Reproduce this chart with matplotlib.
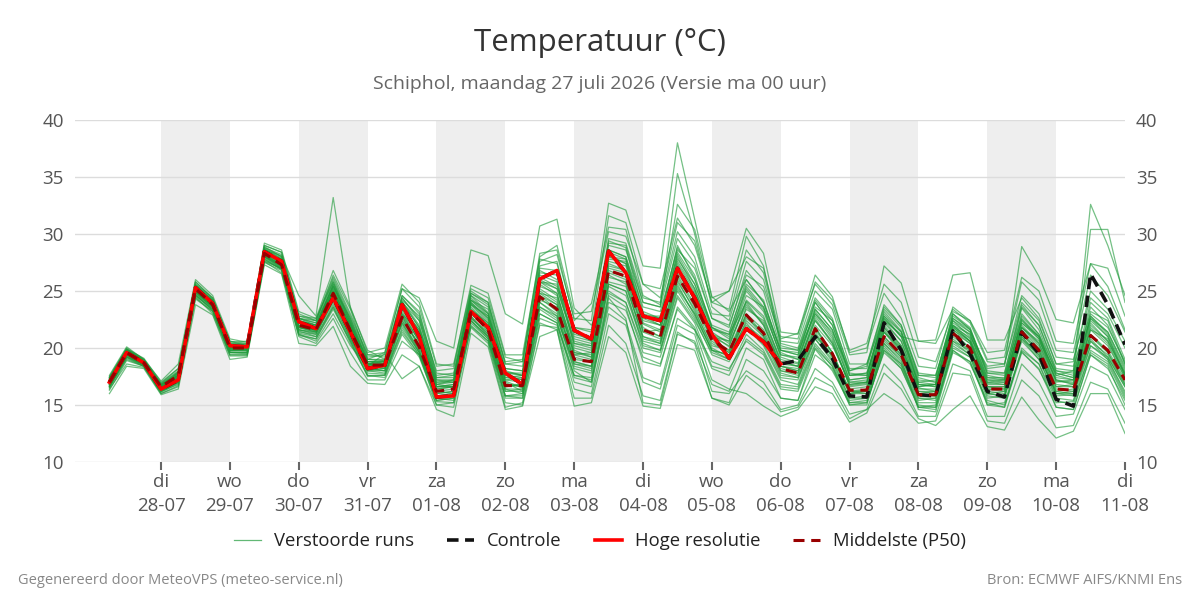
import matplotlib
matplotlib.use("Agg")
import matplotlib.pyplot as plt
from matplotlib.lines import Line2D

plt.rcParams['font.family'] = ['Open Sans', 'DejaVu Sans']

# ---------------- data ----------------
day_names = ["di", "wo", "do", "vr", "za", "zo", "ma", "di", "wo", "do", "vr", "za", "zo", "ma", "di"]
day_dates = ["28-07", "29-07", "30-07", "31-07", "01-08", "02-08", "03-08", "04-08",
             "05-08", "06-08", "07-08", "08-08", "09-08", "10-08", "11-08"]

# first point 27-07 06 UTC, 6-hourly steps (in days relative to 28-07 00 UTC)
first_step = -0.75
step_days = 0.25

median = [17.0, 19.6, 18.7, 16.6, 17.6, 25.2, 23.8, 20.0, 20.0, 28.3,
          27.3, 22.0, 21.6, 24.8, 21.5, 18.5, 18.5, 22.7, 20.1, 16.2,
          16.4, 23.1, 21.6, 16.7, 16.7, 24.5, 23.4, 19.0, 18.8, 26.8,
          26.3, 21.6, 21.0, 26.3, 23.9, 20.7, 19.7, 22.9, 21.3, 18.2,
          17.8, 21.7, 19.5, 16.3, 16.3, 21.0, 19.4, 15.9, 15.9, 21.3,
          20.0, 16.4, 16.4, 21.4, 19.8, 16.4, 16.3, 21.1, 19.8, 17.2]

hres = [17.0, 19.6, 18.7, 16.4, 17.2, 25.3, 23.9, 20.2, 20.1, 28.45,
        27.6, 22.3, 21.7, 24.4, 21.4, 18.2, 18.5, 23.8, 21.0, 15.7,
        15.8, 23.2, 21.8, 17.8, 16.8, 26.05, 26.8, 21.55, 20.8, 28.5,
        26.6, 22.8, 22.4, 27.0, 24.4, 21.2, 19.1, 21.7, 20.55, 18.6]

control = [17.0, 19.6, 18.7, 16.4, 17.2, 25.3, 23.9, 20.2, 20.1, 28.45,
           27.6, 22.3, 21.7, 24.4, 21.4, 18.2, 18.5, 23.8, 21.0, 15.7,
           15.8, 23.2, 21.8, 17.8, 16.8, 26.05, 26.8, 21.55, 20.8, 28.5,
           26.6, 22.8, 22.4, 27.0, 24.4, 21.2, 19.1, 21.7, 20.55, 18.6,
           18.9, 21.0, 19.1, 15.8, 15.7, 22.2, 19.8, 15.9, 15.8, 21.5,
           19.5, 16.2, 15.7, 21.4, 19.5, 15.5, 14.9, 26.5, 23.8, 20.3]

member_01 = [17.2, 19.8, 18.9, 16.8, 17.9, 25.6, 24.2, 20.3, 20.2, 28.9,
             28.0, 22.6, 22.0, 25.6, 22.4, 19.0, 18.9, 24.1, 22.0, 17.0,
             17.2, 24.6, 23.1, 17.9, 17.6, 26.8, 26.0, 20.6, 20.2, 29.4,
             28.8, 23.2, 22.6, 29.0, 26.1, 21.8, 20.8, 25.4, 23.6, 19.2,
             18.7, 23.4, 21.6, 17.2, 17.4, 23.2, 21.5, 16.8, 16.6, 22.8,
             21.7, 17.6, 17.3, 23.5, 21.6, 17.8, 17.4, 23.2, 22.4, 18.6]
member_02 = [16.4, 18.6, 18.3, 16.0, 16.6, 24.3, 23.2, 19.4, 19.4, 27.6,
             27.0, 21.1, 20.8, 23.4, 20.6, 17.6, 17.4, 21.2, 19.2, 15.3,
             15.2, 21.9, 20.6, 15.6, 15.6, 22.6, 22.0, 17.6, 17.2, 24.0,
             23.3, 19.2, 18.6, 23.4, 21.6, 18.8, 18.2, 20.6, 19.4, 16.4,
             16.2, 19.9, 18.0, 15.2, 15.4, 19.6, 18.2, 14.8, 14.6, 19.8,
             18.6, 15.4, 15.0, 19.7, 18.1, 15.2, 15.3, 19.6, 18.6, 15.6]
member_03 = [17.4, 19.9, 18.8, 16.5, 17.4, 25.0, 23.6, 19.9, 19.8, 28.2,
             27.3, 22.2, 21.9, 25.2, 21.9, 18.3, 18.2, 23.4, 20.8, 16.6,
             16.8, 23.9, 22.4, 17.1, 16.5, 25.4, 24.8, 19.8, 19.2, 27.6,
             27.2, 22.1, 21.4, 27.2, 24.8, 21.2, 20.1, 24.1, 22.6, 19.0,
             18.6, 22.6, 20.4, 16.7, 16.9, 22.4, 20.6, 16.5, 16.2, 21.9,
             20.9, 17.0, 16.8, 22.5, 20.8, 17.1, 16.9, 22.8, 21.4, 18.2]
member_04 = [16.8, 19.4, 18.6, 16.9, 18.2, 25.4, 24.0, 20.5, 20.6, 28.6,
             28.1, 24.6, 22.8, 33.2, 23.5, 19.8, 19.0, 22.0, 19.6, 15.8,
             16.0, 22.4, 21.0, 16.2, 16.4, 23.6, 22.6, 18.6, 18.4, 25.6,
             25.0, 20.6, 20.2, 25.4, 23.0, 19.8, 19.4, 22.0, 20.8, 17.6,
             17.4, 20.8, 19.0, 15.6, 15.8, 20.4, 18.8, 15.4, 15.6, 20.6,
             19.4, 16.0, 15.8, 20.8, 19.0, 15.8, 15.9, 20.2, 19.2, 16.6]
member_05 = [17.1, 19.5, 18.5, 16.3, 17.0, 24.8, 23.5, 20.1, 20.2, 28.0,
             27.4, 22.4, 22.0, 25.0, 22.0, 19.0, 19.6, 25.2, 24.4, 20.6,
             20.0, 28.6, 28.1, 23.0, 22.1, 30.7, 31.3, 23.5, 22.0, 25.0,
             24.0, 20.0, 19.6, 24.6, 22.4, 19.6, 19.0, 23.0, 21.6, 18.4,
             18.2, 22.0, 20.2, 17.0, 17.0, 21.8, 20.0, 16.6, 16.8, 22.0,
             20.6, 16.9, 17.0, 21.8, 20.4, 17.2, 16.8, 22.0, 20.6, 17.8]
member_06 = [17.3, 19.7, 18.9, 16.7, 17.8, 25.5, 24.1, 20.4, 20.3, 28.7,
             27.8, 22.3, 21.8, 24.9, 21.6, 18.6, 18.8, 24.6, 23.2, 17.6,
             17.8, 24.8, 23.8, 18.6, 18.4, 27.6, 28.2, 22.6, 22.4, 32.7,
             32.1, 27.2, 27.0, 38.0, 31.3, 24.5, 23.2, 26.0, 24.0, 19.8,
             19.4, 24.0, 22.0, 17.8, 17.6, 22.6, 21.0, 17.0, 17.2, 23.0,
             21.6, 18.0, 17.8, 23.8, 22.0, 18.2, 18.0, 24.0, 22.6, 19.0]
member_07 = [16.6, 19.2, 18.6, 16.2, 17.0, 25.0, 23.9, 20.0, 19.9, 28.2,
             27.6, 22.8, 22.4, 26.2, 23.0, 19.4, 19.2, 24.0, 22.4, 17.2,
             17.0, 24.2, 23.4, 18.0, 17.6, 27.2, 27.6, 21.4, 20.6, 29.2,
             29.0, 24.0, 23.6, 35.3, 30.0, 23.6, 22.4, 27.6, 26.0, 20.4,
             20.0, 24.4, 22.6, 18.0, 18.4, 23.8, 22.0, 17.6, 17.6, 22.4,
             21.0, 18.4, 18.6, 24.0, 22.4, 18.6, 18.8, 25.0, 23.4, 20.6]
member_08 = [17.5, 20.0, 19.0, 17.1, 18.6, 26.0, 24.6, 20.8, 20.5, 29.2,
             28.6, 23.2, 22.6, 26.8, 23.6, 19.6, 20.0, 25.6, 24.0, 18.6,
             18.4, 25.5, 24.8, 19.4, 19.4, 28.0, 29.0, 23.0, 23.2, 30.2,
             29.8, 25.6, 25.2, 31.4, 29.0, 24.0, 25.0, 30.5, 28.3, 21.4,
             21.2, 26.4, 24.5, 19.6, 20.0, 24.8, 22.6, 18.4, 18.2, 23.6,
             22.4, 19.0, 19.2, 25.8, 24.2, 19.8, 19.6, 26.4, 24.6, 21.4]
member_09 = [16.0, 18.4, 18.2, 15.9, 16.4, 23.8, 22.9, 19.0, 19.2, 27.3,
             26.5, 20.4, 20.2, 21.9, 18.4, 16.9, 16.8, 19.4, 18.4, 14.6,
             14.0, 21.3, 20.1, 14.6, 14.9, 21.0, 21.6, 14.9, 15.2, 21.0,
             19.6, 14.9, 14.7, 20.3, 19.8, 15.6, 15.2, 19.0, 18.0, 15.6,
             15.4, 19.4, 18.2, 15.0, 15.2, 19.8, 18.6, 14.8, 15.0, 20.0,
             19.2, 15.6, 15.8, 20.8, 19.4, 16.0, 16.2, 20.6, 19.0, 16.0]
member_10 = [16.8, 19.3, 18.5, 16.4, 17.3, 25.0, 23.7, 19.8, 19.7, 28.0,
             27.2, 21.6, 21.3, 24.0, 20.8, 17.8, 17.7, 22.2, 19.8, 15.6,
             15.8, 22.6, 21.2, 16.4, 16.0, 24.0, 22.8, 18.0, 17.0, 23.6,
             22.4, 17.4, 16.8, 22.6, 21.6, 17.2, 16.4, 16.0, 14.9, 14.0,
             14.6, 16.6, 16.0, 13.5, 14.3, 17.8, 16.4, 13.8, 13.2, 14.6,
             15.8, 13.1, 12.8, 15.7, 13.7, 12.1, 12.7, 16.0, 16.0, 12.5]
member_11 = [17.2, 19.9, 19.1, 17.0, 18.2, 25.8, 24.4, 20.6, 20.4, 28.8,
             28.2, 22.8, 22.6, 25.8, 22.6, 19.2, 19.4, 24.4, 22.6, 18.0,
             18.2, 25.0, 24.0, 18.8, 19.0, 27.8, 27.4, 21.8, 21.6, 28.6,
             28.0, 23.6, 23.2, 28.6, 27.0, 22.6, 22.0, 26.4, 25.4, 20.8,
             21.3, 25.6, 23.8, 19.4, 19.6, 27.2, 25.7, 20.6, 20.4, 23.4,
             22.2, 18.8, 18.6, 24.6, 23.0, 19.2, 19.0, 24.4, 23.0, 20.0]
member_12 = [16.9, 19.5, 18.7, 16.6, 17.5, 25.1, 23.7, 20.1, 20.1, 28.4,
             27.5, 22.0, 21.5, 24.6, 21.6, 18.4, 18.6, 23.0, 21.4, 16.8,
             16.6, 23.4, 22.2, 17.2, 17.4, 25.0, 24.0, 19.6, 19.4, 27.8,
             27.6, 22.4, 22.0, 27.4, 25.0, 21.0, 20.6, 24.6, 23.6, 19.8,
             19.6, 23.0, 21.4, 18.0, 18.6, 22.8, 21.0, 20.6, 20.7, 26.4,
             26.6, 20.7, 20.7, 24.4, 22.6, 18.6, 18.4, 23.0, 21.8, 18.8]
member_13 = [17.0, 19.6, 18.6, 16.5, 17.4, 25.2, 23.9, 20.0, 20.0, 28.4,
             27.4, 21.8, 21.4, 24.6, 21.2, 18.2, 18.0, 22.4, 20.4, 16.0,
             16.2, 23.0, 21.6, 16.6, 16.8, 24.6, 23.8, 18.8, 18.4, 26.4,
             25.6, 21.0, 20.6, 26.0, 23.2, 20.2, 19.8, 23.4, 22.4, 18.8,
             18.4, 22.4, 20.6, 16.8, 17.0, 22.0, 20.2, 16.6, 16.8, 22.4,
             21.4, 18.2, 18.4, 28.9, 26.3, 22.5, 22.2, 27.4, 25.4, 21.6]
member_14 = [17.3, 19.8, 18.8, 16.8, 17.9, 25.3, 24.0, 20.2, 20.2, 28.5,
             27.6, 22.4, 21.8, 25.0, 22.0, 18.8, 18.6, 23.4, 21.6, 16.8,
             17.0, 23.8, 22.8, 17.8, 17.6, 25.8, 25.2, 20.4, 20.0, 28.2,
             27.4, 22.8, 22.4, 27.8, 25.6, 21.6, 21.2, 24.0, 22.0, 18.4,
             18.0, 21.6, 19.6, 16.0, 16.4, 21.4, 19.8, 16.0, 16.2, 21.8,
             20.6, 17.0, 17.2, 22.4, 21.0, 17.6, 18.0, 32.6, 29.0, 24.6]
member_15 = [16.7, 19.4, 18.6, 16.3, 17.2, 24.9, 23.6, 19.8, 19.9, 28.0,
             27.0, 21.6, 21.2, 24.2, 21.0, 18.0, 18.2, 22.8, 20.2, 16.4,
             16.6, 22.8, 21.2, 16.8, 16.6, 24.0, 23.0, 18.6, 18.2, 25.8,
             25.4, 21.0, 20.4, 25.6, 22.8, 19.8, 19.4, 22.2, 20.4, 17.4,
             17.2, 21.0, 19.4, 16.4, 16.6, 21.4, 20.0, 16.2, 16.0, 21.6,
             20.4, 16.6, 16.6, 21.8, 20.6, 17.8, 17.4, 30.4, 30.4, 24.0]
member_16 = [16.5, 19.0, 18.4, 16.1, 16.9, 24.6, 23.4, 19.6, 19.6, 27.8,
             26.9, 21.3, 21.0, 23.6, 20.6, 17.5, 17.6, 21.8, 19.6, 15.4,
             15.6, 22.4, 21.0, 15.8, 15.6, 23.0, 22.2, 17.0, 16.6, 24.4,
             22.6, 15.2, 15.0, 21.2, 20.6, 16.8, 16.2, 20.0, 19.0, 15.6,
             15.4, 20.0, 18.4, 15.0, 15.0, 20.4, 19.0, 14.6, 14.4, 19.6,
             18.8, 15.2, 14.8, 20.0, 18.6, 14.8, 14.6, 19.4, 18.4, 15.0]
member_17 = [17.6, 20.1, 19.0, 16.9, 18.0, 25.8, 24.3, 20.4, 20.4, 29.0,
             28.4, 23.0, 22.4, 26.0, 22.8, 19.4, 19.6, 25.2, 23.6, 18.4,
             18.6, 25.2, 24.4, 19.2, 18.8, 27.0, 26.8, 21.2, 20.8, 29.6,
             29.2, 24.4, 24.0, 30.2, 28.0, 23.0, 22.8, 28.6, 26.6, 20.6,
             20.4, 25.0, 23.4, 18.6, 18.6, 23.6, 22.0, 17.8, 17.6, 22.6,
             21.6, 17.8, 17.6, 22.8, 21.2, 18.0, 17.8, 22.6, 21.4, 18.4]
member_18 = [16.9, 19.5, 18.6, 16.4, 17.2, 24.7, 23.3, 19.6, 19.5, 27.9,
             27.0, 21.8, 21.6, 24.4, 21.4, 18.6, 18.4, 23.2, 20.6, 16.2,
             16.0, 23.4, 22.0, 17.0, 16.2, 24.8, 24.4, 19.4, 19.0, 27.2,
             26.8, 21.8, 21.0, 26.6, 24.2, 20.6, 19.6, 22.6, 21.4, 18.0,
             17.6, 21.4, 19.2, 16.0, 16.0, 20.6, 19.2, 15.6, 15.4, 20.8,
             19.6, 16.0, 15.8, 21.0, 19.4, 16.0, 15.8, 20.6, 19.4, 16.8]
member_19 = [16.3, 18.9, 18.4, 16.2, 16.8, 24.4, 23.2, 19.4, 19.4, 27.5,
             26.8, 21.2, 20.6, 23.0, 20.2, 18.4, 19.5, 17.3, 18.4, 15.0,
             15.2, 22.0, 20.6, 15.2, 15.0, 22.0, 21.8, 16.4, 16.0, 23.0,
             22.0, 17.0, 16.4, 22.0, 21.2, 16.2, 16.0, 18.0, 17.0, 14.6,
             15.0, 18.2, 17.0, 14.2, 14.6, 18.6, 17.0, 14.0, 14.0, 18.6,
             18.0, 14.0, 14.0, 18.6, 17.0, 14.0, 14.2, 18.4, 17.6, 14.6]
member_20 = [17.1, 19.7, 18.8, 16.7, 17.6, 25.4, 24.2, 20.2, 20.0, 28.6,
             27.8, 22.6, 22.2, 25.4, 22.2, 18.8, 18.8, 24.2, 22.8, 17.4,
             17.6, 24.4, 23.0, 18.2, 18.0, 26.2, 25.4, 21.8, 21.4, 31.6,
             31.0, 25.6, 24.4, 31.0, 29.4, 24.0, 23.4, 29.8, 27.2, 20.2,
             19.8, 23.6, 22.4, 17.6, 17.8, 22.8, 21.4, 17.4, 17.0, 22.0,
             21.2, 17.4, 17.2, 22.2, 21.0, 17.6, 17.2, 22.6, 21.0, 17.6]
member_21 = [17.0, 19.6, 18.7, 16.6, 17.7, 25.2, 23.8, 20.0, 20.0, 28.3,
             27.4, 22.0, 21.7, 24.8, 21.6, 18.5, 18.6, 22.6, 20.2, 16.2,
             16.4, 23.2, 21.4, 16.6, 16.8, 24.6, 23.4, 19.0, 18.8, 26.8,
             26.2, 21.6, 21.0, 26.4, 23.8, 20.8, 19.8, 23.0, 21.2, 18.2,
             17.8, 21.8, 19.6, 16.2, 16.4, 21.0, 19.4, 15.9, 15.8, 21.2,
             20.0, 16.4, 16.4, 21.4, 19.8, 16.4, 16.2, 21.2, 19.8, 17.2]
member_22 = [17.4, 19.9, 19.0, 16.8, 17.6, 25.6, 24.4, 20.6, 20.2, 29.0,
             28.4, 22.6, 22.4, 26.4, 23.4, 19.0, 19.0, 24.6, 23.0, 17.8,
             17.6, 24.8, 24.0, 18.6, 18.8, 28.3, 28.6, 22.4, 23.9, 30.6,
             30.4, 24.6, 23.8, 32.6, 30.4, 24.4, 25.0, 28.0, 27.0, 21.0,
             20.8, 25.8, 24.2, 19.8, 20.4, 25.6, 24.0, 19.2, 18.8, 23.2,
             22.4, 19.6, 19.8, 26.2, 25.0, 20.6, 20.4, 27.4, 27.0, 22.8]
member_23 = [16.6, 19.1, 18.4, 16.0, 16.7, 24.5, 23.0, 19.3, 19.3, 27.6,
             26.6, 21.0, 20.4, 22.6, 19.6, 17.2, 17.2, 20.6, 19.4, 15.0,
             14.8, 21.8, 20.4, 14.8, 15.2, 22.2, 21.6, 15.6, 15.6, 22.0,
             20.4, 15.8, 15.4, 21.4, 20.4, 15.6, 15.0, 17.6, 16.4, 14.4,
             14.8, 17.4, 16.6, 13.8, 14.6, 16.0, 15.0, 13.4, 13.6, 17.8,
             17.6, 13.6, 13.4, 17.2, 15.8, 13.0, 13.2, 17.0, 16.4, 13.4]
member_24 = [17.2, 19.7, 18.9, 16.6, 17.4, 25.0, 23.8, 20.0, 20.3, 28.8,
             28.0, 22.2, 21.8, 25.6, 22.2, 18.2, 18.0, 23.6, 21.6, 16.6,
             16.6, 24.0, 22.6, 17.6, 17.2, 25.6, 24.6, 20.0, 19.6, 28.0,
             27.8, 22.8, 22.0, 28.4, 26.0, 22.0, 21.4, 25.6, 24.2, 19.6,
             19.0, 23.4, 21.6, 17.6, 17.8, 22.4, 21.2, 17.0, 16.8, 21.6,
             20.6, 16.6, 16.4, 21.8, 20.2, 16.6, 16.8, 21.6, 20.8, 17.6]
member_25 = [17.1, 19.6, 18.8, 16.5, 17.3, 25.1, 23.7, 19.9, 19.9, 28.2,
             27.2, 21.9, 21.5, 24.6, 21.2, 18.4, 18.3, 22.9, 20.6, 16.4,
             16.6, 23.6, 22.0, 17.2, 17.0, 25.2, 24.2, 19.6, 19.2, 27.4,
             26.8, 22.2, 21.6, 27.0, 24.6, 21.0, 20.2, 24.2, 22.8, 18.8,
             18.4, 22.4, 20.4, 16.8, 17.0, 21.8, 20.2, 16.4, 16.4, 21.8,
             20.6, 16.8, 16.8, 22.0, 20.4, 16.8, 16.6, 21.8, 20.4, 17.4]
member_26 = [16.8, 19.4, 18.6, 16.3, 17.0, 24.9, 23.5, 19.7, 19.8, 28.0,
             27.1, 21.4, 21.2, 24.2, 21.0, 18.0, 18.0, 22.2, 19.6, 15.8,
             15.8, 22.8, 21.0, 16.2, 16.2, 23.6, 22.8, 18.2, 17.8, 25.4,
             24.6, 20.4, 19.8, 25.0, 22.6, 19.4, 18.8, 21.8, 20.2, 17.2,
             16.8, 20.8, 18.8, 15.6, 15.6, 20.2, 18.6, 15.2, 15.2, 20.4,
             19.4, 15.8, 15.6, 20.6, 19.0, 15.6, 15.4, 20.2, 19.0, 16.2]
member_27 = [17.3, 19.8, 18.9, 16.7, 17.8, 25.3, 24.0, 20.1, 20.1, 28.5,
             27.7, 22.4, 22.0, 25.4, 22.6, 18.8, 18.8, 24.0, 21.8, 17.0,
             17.0, 24.2, 22.8, 17.6, 17.4, 26.4, 25.8, 20.4, 20.2, 28.6,
             28.0, 23.0, 22.6, 28.2, 25.6, 21.8, 21.0, 25.2, 23.4, 19.4,
             19.0, 23.0, 21.0, 17.2, 17.4, 22.6, 21.0, 16.8, 16.6, 22.2,
             21.2, 17.2, 17.0, 22.6, 21.0, 17.2, 17.0, 22.4, 21.0, 17.8]
member_28 = [16.7, 19.3, 18.5, 16.4, 17.4, 25.0, 23.7, 19.8, 19.8, 28.1,
             27.1, 21.6, 21.4, 24.8, 21.8, 18.6, 18.4, 23.0, 20.6, 16.6,
             16.6, 23.0, 21.8, 16.8, 16.8, 24.2, 23.6, 18.8, 18.4, 26.2,
             25.8, 20.8, 20.4, 25.8, 23.4, 20.0, 19.2, 23.6, 22.2, 18.4,
             18.0, 21.2, 19.2, 16.0, 16.2, 21.4, 19.6, 15.8, 15.8, 21.0,
             19.8, 16.2, 16.0, 21.2, 19.6, 16.0, 16.0, 21.0, 19.6, 16.8]
member_29 = [17.0, 19.6, 18.8, 16.6, 17.6, 25.4, 24.0, 20.2, 20.2, 28.6,
             27.6, 22.2, 21.8, 25.0, 21.8, 18.6, 18.8, 23.6, 21.2, 16.8,
             17.2, 23.8, 22.2, 17.4, 17.6, 25.8, 24.8, 19.4, 19.6, 27.0,
             26.6, 21.4, 21.6, 27.6, 25.2, 21.4, 20.4, 23.8, 22.0, 18.6,
             18.4, 22.8, 20.8, 16.6, 16.8, 21.6, 19.8, 16.2, 16.2, 21.4,
             20.4, 16.6, 16.6, 21.6, 20.0, 16.6, 16.6, 21.6, 20.2, 17.4]
member_30 = [16.6, 19.2, 18.5, 16.2, 17.1, 24.7, 23.4, 19.6, 19.6, 27.7,
             26.9, 21.5, 21.0, 23.8, 20.8, 18.0, 17.8, 21.6, 19.4, 15.6,
             15.4, 22.2, 20.8, 15.8, 16.0, 23.4, 22.4, 17.6, 17.4, 24.8,
             24.0, 19.6, 19.2, 24.4, 22.2, 18.4, 18.0, 21.2, 19.8, 16.8,
             16.6, 20.4, 18.6, 15.4, 15.6, 20.0, 18.4, 15.0, 14.8, 20.2,
             19.2, 15.0, 15.2, 19.8, 18.6, 15.4, 15.0, 19.8, 18.8, 15.8]
member_31 = [17.4, 19.9, 18.9, 16.8, 17.6, 25.5, 24.2, 20.2, 20.0, 28.7,
             27.9, 22.6, 22.2, 25.8, 22.4, 18.6, 18.6, 24.4, 22.4, 17.4,
             17.4, 24.6, 23.6, 18.2, 18.0, 26.6, 26.4, 21.0, 20.6, 29.0,
             28.6, 24.0, 23.6, 29.6, 27.4, 22.6, 21.8, 26.8, 25.0, 20.0,
             19.8, 24.2, 22.4, 18.2, 18.2, 23.4, 21.8, 17.6, 17.4, 23.0,
             21.8, 17.8, 17.8, 23.6, 22.0, 18.0, 17.6, 23.6, 22.0, 18.6]
member_32 = [16.9, 19.4, 18.6, 16.5, 17.2, 24.9, 23.6, 19.8, 19.9, 28.1,
             27.2, 21.8, 21.4, 24.4, 21.2, 18.4, 18.2, 22.4, 19.8, 15.8,
             16.0, 22.6, 21.4, 16.4, 16.4, 24.4, 23.2, 18.4, 18.0, 25.6,
             25.0, 20.2, 19.8, 25.2, 23.0, 19.8, 19.0, 22.4, 21.0, 17.8,
             17.4, 21.2, 19.4, 16.2, 16.0, 20.8, 19.2, 15.6, 15.6, 20.6,
             19.8, 16.0, 16.2, 21.0, 19.2, 16.2, 16.0, 20.8, 19.2, 16.6]
member_33 = [17.1, 19.7, 18.7, 16.6, 17.5, 25.2, 23.9, 20.0, 20.1, 28.4,
             27.5, 22.2, 21.8, 25.2, 22.0, 18.4, 18.6, 23.8, 21.4, 16.6,
             16.8, 24.0, 22.6, 17.4, 17.2, 25.8, 25.6, 20.2, 19.8, 28.4,
             27.8, 22.6, 22.0, 28.0, 25.2, 21.2, 20.6, 25.0, 23.2, 19.4,
             19.2, 23.2, 21.2, 17.0, 17.2, 22.2, 20.6, 16.8, 16.8, 22.0,
             20.8, 17.2, 17.2, 22.2, 20.8, 17.0, 17.2, 22.2, 20.6, 17.6]
member_34 = [16.8, 19.5, 18.6, 16.4, 17.6, 25.2, 23.8, 20.0, 19.9, 28.2,
             27.3, 21.8, 21.6, 24.6, 21.4, 18.6, 18.6, 22.8, 20.0, 16.0,
             16.2, 23.2, 21.6, 16.8, 16.6, 24.8, 23.8, 19.2, 18.8, 26.6,
             26.0, 21.4, 20.8, 26.2, 23.6, 20.4, 19.6, 22.8, 21.0, 18.0,
             17.8, 21.8, 19.6, 16.2, 16.2, 21.0, 19.4, 16.0, 15.8, 21.4,
             20.0, 16.4, 16.2, 21.2, 19.8, 16.2, 16.4, 21.2, 19.6, 17.0]
member_35 = [17.2, 19.8, 18.8, 16.7, 17.8, 25.4, 24.0, 20.2, 20.2, 28.6,
             27.6, 22.4, 22.0, 25.4, 22.2, 18.8, 18.9, 24.0, 21.8, 17.2,
             17.2, 24.2, 23.0, 17.8, 17.8, 26.0, 25.2, 20.8, 20.4, 28.0,
             27.4, 22.8, 22.8, 28.8, 26.4, 21.8, 21.2, 26.0, 24.0, 19.8,
             19.4, 24.0, 22.0, 17.6, 17.6, 23.0, 21.4, 17.2, 17.0, 22.6,
             21.4, 17.4, 17.4, 23.0, 21.2, 17.4, 17.2, 22.8, 21.2, 18.0]
member_36 = [16.6, 19.2, 18.4, 16.2, 17.0, 24.6, 23.3, 19.6, 19.6, 27.8,
             26.9, 21.2, 20.8, 23.6, 20.4, 17.6, 17.6, 21.4, 19.4, 15.4,
             15.6, 22.4, 20.8, 15.8, 15.8, 23.0, 22.2, 17.4, 17.0, 24.6,
             23.6, 18.8, 18.4, 23.6, 21.8, 18.2, 17.6, 20.8, 19.6, 16.6,
             16.4, 20.2, 18.4, 15.2, 15.2, 19.8, 18.2, 14.8, 14.8, 19.8,
             18.8, 15.0, 14.8, 19.6, 18.2, 14.8, 14.6, 19.4, 18.2, 15.4]

members = [member_01, member_02, member_03, member_04, member_05, member_06,
           member_07, member_08, member_09, member_10, member_11, member_12,
           member_13, member_14, member_15, member_16, member_17, member_18,
           member_19, member_20, member_21, member_22, member_23, member_24,
           member_25, member_26, member_27, member_28, member_29, member_30,
           member_31, member_32, member_33, member_34, member_35, member_36]

y_ticks = [10, 15, 20, 25, 30, 35, 40]

# ---------------- plot ----------------
def xs(n):
    return [first_step + step_days * k for k in range(n)]

fig = plt.figure(figsize=(12, 6), dpi=100)
ax = fig.add_axes([0.0625, 0.23, 0.875, 0.57])

n_days = len(day_dates)
for d in range(0, n_days - 1, 2):
    ax.axvspan(d, d + 1, color='#eeeeee', lw=0, zorder=0)

for yv in y_ticks:
    ax.axhline(yv, color='#dcdcdc', lw=1.0, zorder=0.5)

green = '#1f9a3a'
for m in members:
    ax.plot(xs(len(m)), m, color=green, lw=0.9, alpha=0.62, zorder=2)

ax.plot(xs(len(control)), control, color='#111111', lw=2.6, ls=(0, (3.2, 1.8)), zorder=3)
ax.plot(xs(len(hres)), hres, color='#ff0000', lw=2.6, zorder=4)
ax.plot(xs(len(median)), median, color='#990000', lw=2.2, ls=(0, (3.6, 2.2)), zorder=5)

ax.set_xlim(-1.25, 14)
ax.set_ylim(10, 40)
ax.set_yticks(y_ticks)
ax.set_xticks(range(n_days))
ax.set_xticklabels([f"{a}\n{b}" for a, b in zip(day_names, day_dates)])
for s in ax.spines.values():
    s.set_visible(False)
ax.tick_params(axis='y', length=0, labelsize=13.5, labelcolor='#555555',
               labelright=True, right=False, pad=8)
ax.tick_params(axis='x', length=6, width=1.5, color='#666666', labelsize=13.5,
               labelcolor='#555555', pad=2)
for lab in ax.get_xticklabels():
    lab.set_linespacing(1.4)

fig.text(0.5, 0.928, "Temperatuur (°C)", ha='center', va='center', fontsize=22.5, color='#333333')
fig.text(0.5, 0.86, "Schiphol, maandag 27 juli 2026 (Versie ma 00 uur)", ha='center', va='center',
         fontsize=14, color='#666666')

handles = [Line2D([], [], color=green, lw=0.9, alpha=0.7),
           Line2D([], [], color='#111111', lw=2.6, ls=(0, (3.2, 1.8))),
           Line2D([], [], color='#ff0000', lw=2.6),
           Line2D([], [], color='#990000', lw=2.2, ls=(0, (3.6, 2.2)))]
labels = ["Verstoorde runs", "Controle", "Hoge resolutie", "Middelste (P50)"]
fig.legend(handles, labels, loc='center', bbox_to_anchor=(0.5, 0.098), ncol=4, frameon=False,
           fontsize=13.3, handlelength=1.45, handletextpad=0.7, columnspacing=1.8,
           labelcolor='#222222')

fig.text(0.015, 0.033, "Gegenereerd door MeteoVPS (meteo-service.nl)", ha='left', va='center',
         fontsize=10.5, color='#888888')
fig.text(0.985, 0.033, "Bron: ECMWF AIFS/KNMI Ens", ha='right', va='center',
         fontsize=10.5, color='#888888')

fig.savefig("out.png", dpi=100)
